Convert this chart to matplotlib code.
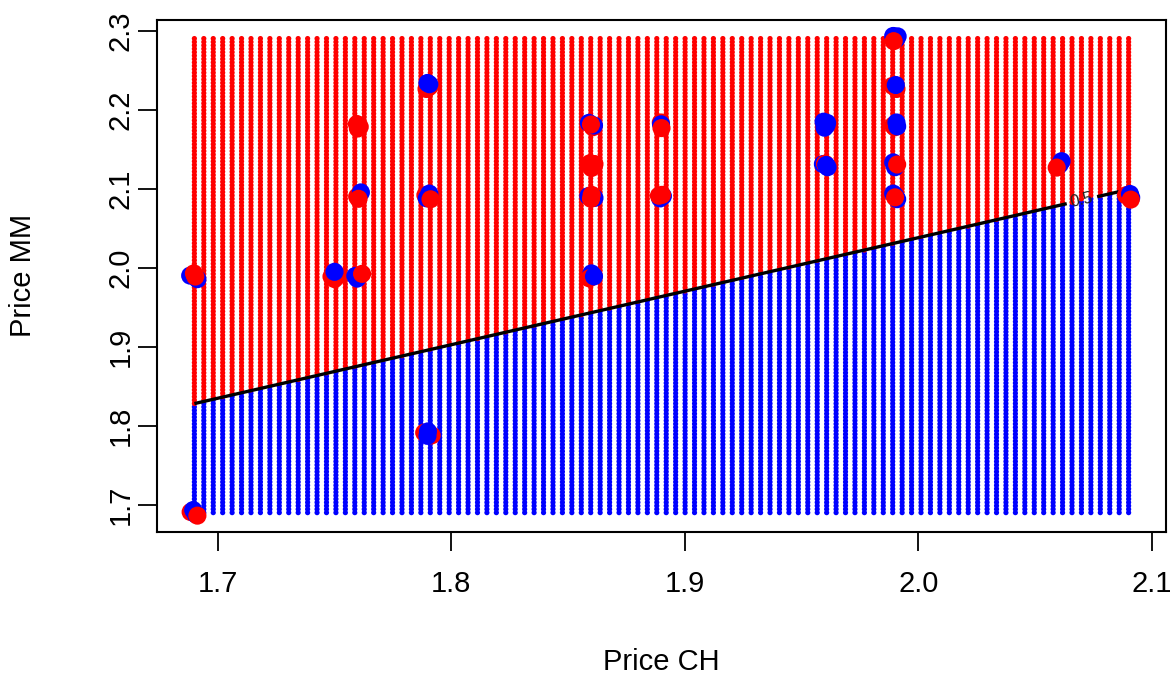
import numpy as np
import matplotlib
matplotlib.use("Agg")
import matplotlib.pyplot as plt

# observed purchases (jittered prices), drawn in this order
price_ch = [
    1.6882, 1.6913, 1.6898, 1.6904,
    1.6884, 1.6895, 1.6906, 1.6913,
    1.7487, 1.7516, 1.7500, 1.7500,
    1.7589, 1.7597, 1.7618,
    1.7596, 1.7608, 1.7600,
    1.7597, 1.7613, 1.7603,
    1.7894, 1.7906, 1.7898, 1.7906,
    1.7889, 1.7895, 1.7906, 1.7911,
    1.7884, 1.7916, 1.7900, 1.7898,
    1.8589, 1.8606, 1.8611, 1.8598,
    1.8594, 1.8609, 1.8600, 1.8613,
    1.8587, 1.8613, 1.8601, 1.8598,
    1.8600, 1.8591, 1.8611,
    1.8897, 1.8898, 1.8900,
    1.8894, 1.8906, 1.8902, 1.8889,
    1.9594, 1.9606, 1.9598, 1.9609,
    1.9591, 1.9600, 1.9605, 1.9611,
    1.9892, 1.9911, 1.9905, 1.9894,
    1.9889, 1.9906, 1.9903,
    1.9892, 1.9898, 1.9906, 1.9909,
    1.9892, 1.9900, 1.9909,
    1.9892, 1.9909, 1.9900, 1.9900,
    2.0613, 2.0605, 2.0592,
    2.0889, 2.0906, 2.0911, 2.0909,
]
price_mm = [
    1.9900, 1.9855, 1.9928, 1.9888,
    1.6908, 1.6933, 1.6878, 1.6862,
    1.9888, 1.9900, 1.9856, 1.9948,
    1.9896, 1.9862, 1.9922,
    2.1818, 2.1783, 2.1762,
    2.0900, 2.0953, 2.0872,
    2.2262, 2.2290, 2.2338, 2.2322,
    2.0918, 2.0878, 2.0938, 2.0866,
    1.7912, 1.7878, 1.7928, 1.7872,
    2.1833, 2.1778, 2.1800, 2.1812,
    2.1323, 2.1290, 2.1262, 2.1312,
    2.0906, 2.0883, 2.0922, 2.0872,
    1.9928, 1.9865, 1.9890,
    2.1838, 2.1815, 2.1767,
    2.0877, 2.0906, 2.0922, 2.0911,
    2.1848, 2.1800, 2.1772, 2.1833,
    2.1311, 2.1316, 2.1300, 2.1272,
    2.2933, 2.2928, 2.2895, 2.2867,
    2.2302, 2.2262, 2.2312,
    2.1800, 2.1777, 2.1838, 2.1788,
    2.1333, 2.1272, 2.1306,
    2.0938, 2.0867, 2.0911, 2.0890,
    2.1348, 2.1306, 2.1267,
    2.0917, 2.0933, 2.0888, 2.0862,
]
purchase = [
    "MM", "MM", "CH", "CH",
    "CH", "MM", "MM", "CH",
    "CH", "CH", "CH", "MM",
    "MM", "MM", "CH",
    "CH", "CH", "CH",
    "CH", "MM", "CH",
    "CH", "CH", "MM", "MM",
    "CH", "MM", "MM", "CH",
    "CH", "CH", "MM", "MM",
    "MM", "CH", "MM", "CH",
    "CH", "CH", "CH", "CH",
    "MM", "MM", "CH", "CH",
    "MM", "CH", "MM",
    "CH", "MM", "CH",
    "MM", "MM", "CH", "CH",
    "MM", "MM", "MM", "MM",
    "MM", "CH", "MM", "MM",
    "MM", "MM", "MM", "CH",
    "CH", "CH", "MM",
    "CH", "CH", "MM", "MM",
    "MM", "MM", "CH",
    "MM", "MM", "MM", "CH",
    "MM", "MM", "CH",
    "CH", "MM", "MM", "CH",
]

# prediction grid and the 0.5 probability contour
grid_ch = np.linspace(1.69, 2.09, 100)
grid_mm = np.linspace(1.69, 2.29, 140)
boundary_ch = [1.69, 2.09]
boundary_mm = [1.828, 2.099]
label_ch = 2.070

colors = {"CH": "#FF0000", "MM": "#0000FF"}

plt.rcParams["font.family"] = ["Liberation Sans", "DejaVu Sans"]

fig = plt.figure(figsize=(11.75, 6.78), dpi=100)
ax = fig.add_axes([157 / 1175, 1 - 531.6 / 678, 1009 / 1175, 512 / 678])

gx, gy = np.meshgrid(grid_ch, grid_mm)
gx = gx.ravel()
gy = gy.ravel()
above = gy > np.interp(gx, boundary_ch, boundary_mm)
grid_cols = np.where(above, colors["CH"], colors["MM"])
ax.scatter(gx, gy, s=14, c=grid_cols, linewidths=0, zorder=1)

# contour line with a gap for its label
gap = 0.0065
seg1 = np.array([boundary_ch[0], label_ch - gap])
seg2 = np.array([label_ch + gap, boundary_ch[1]])
for seg in (seg1, seg2):
    ax.plot(seg, np.interp(seg, boundary_ch, boundary_mm), color="black", lw=2.4,
            solid_capstyle="butt", zorder=2)
ax.text(label_ch, np.interp(label_ch, boundary_ch, boundary_mm), "0.5", fontsize=12,
        color="#222222", rotation=12.9, ha="center", va="center", zorder=2)

ax.scatter(price_ch, price_mm, s=170, c=[colors[p] for p in purchase],
           linewidths=0, zorder=3)

ax.set_xlim(1.674, 2.106)
ax.set_ylim(1.666, 2.314)
ax.set_xticks([1.7, 1.8, 1.9, 2.0, 2.1])
ax.set_xticklabels(["1.7", "1.8", "1.9", "2.0", "2.1"])
ax.set_yticks([1.7, 1.8, 1.9, 2.0, 2.1, 2.2, 2.3])
ax.set_yticklabels(["1.7", "1.8", "1.9", "2.0", "2.1", "2.2", "2.3"],
                   rotation=90, va="center")
ax.tick_params(axis="both", length=14, width=1.3, labelsize=21)
ax.tick_params(axis="x", pad=14)
ax.tick_params(axis="y", pad=2)
for sp in ax.spines.values():
    sp.set_linewidth(1.5)

ax.set_xlabel("Price CH", fontsize=21, labelpad=36)
ax.set_ylabel("Price MM", fontsize=21, labelpad=50)

fig.savefig("out.png", dpi=100)
